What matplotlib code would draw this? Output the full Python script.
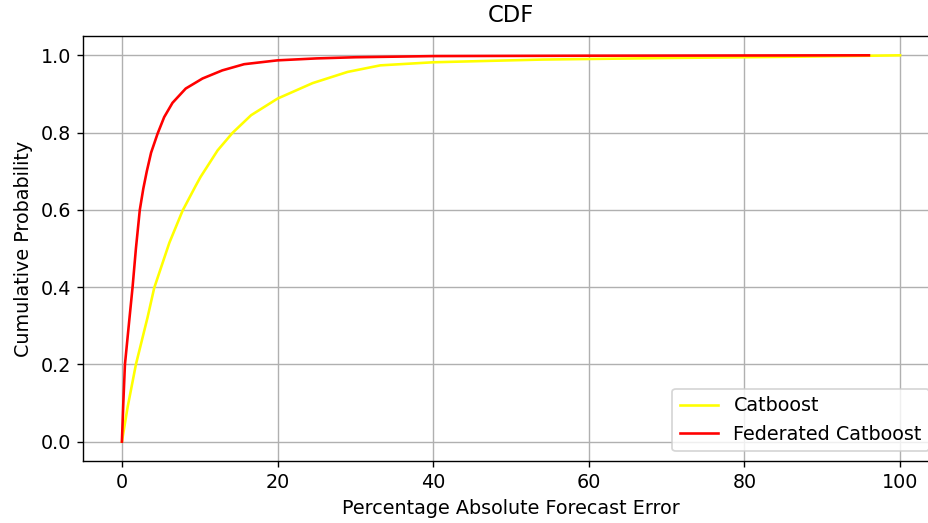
import matplotlib
matplotlib.use('Agg')
import matplotlib.pyplot as plt

# --- data ---
catboost_x = [0, 0.73, 1.8, 3.3, 4.15, 6.1, 7.8, 9.5, 10.1, 12.3, 14.2, 16.6, 20, 24.5,
              29, 33.2, 40, 54, 70, 85, 100]
catboost_y = [0, 0.089, 0.2, 0.322, 0.398, 0.515, 0.598, 0.663, 0.685, 0.754, 0.799, 0.845,
              0.888, 0.928, 0.957, 0.974, 0.982, 0.989, 0.993, 0.996, 1.0]

fed_x = [0, 0.18, 0.39, 0.94, 1.37, 1.8, 2.3, 2.75, 3.2, 3.75, 4.58, 5.43, 6.5, 8.2, 10.36,
         12.9, 15.7, 20, 25, 30, 40, 60, 96]
fed_y = [0, 0.1, 0.2, 0.313, 0.4, 0.5, 0.6, 0.655, 0.7, 0.748, 0.797, 0.84, 0.877, 0.914,
         0.94, 0.961, 0.977, 0.987, 0.992, 0.995, 0.998, 0.999, 1.0]

title = 'CDF'
xlabel = 'Percentage Absolute Forecast Error'
ylabel = 'Cumulative Probability'

plt.rcParams['font.size'] = 11


def main():
    dpi = 125
    fig = plt.figure(figsize=(928 / dpi, 523 / dpi), dpi=dpi)
    # right part of the axes runs past the figure edge, as in the reference crop
    ax = fig.add_axes([83 / 928, 62 / 523, 856 / 928, 425 / 523])

    ax.plot(catboost_x, catboost_y, color='yellow', label='Catboost')
    ax.plot(fed_x, fed_y, color='red', label='Federated Catboost')

    ax.set_title(title, fontsize=13, pad=8)
    ax.set_xlabel(xlabel)
    ax.set_ylabel(ylabel)
    ax.grid(True)
    ax.legend(loc='lower right')

    fig.savefig('out.png', dpi=dpi)


if __name__ == '__main__':
    main()
